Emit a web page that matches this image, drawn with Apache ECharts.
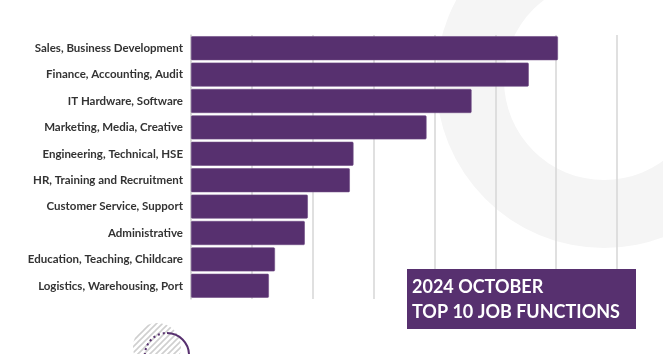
<!DOCTYPE html>
<html>
<head>
<meta charset="utf-8">
<script src="https://cdn.jsdelivr.net/npm/echarts@6/dist/echarts.min.js"></script>
<style>
  html, body { margin: 0; padding: 0; background: #fff; }
  #chart { width: 663px; height: 354px; }
</style>
</head>
<body>
<div id="chart"></div>
<script>
// job functions, top to bottom
const categories = [
  'Sales, Business Development',
  'Finance, Accounting, Audit',
  'IT Hardware, Software',
  'Marketing, Media, Creative',
  'Engineering, Technical, HSE',
  'HR, Training and Recruitment',
  'Customer Service, Support',
  'Administrative',
  'Education, Teaching, Childcare',
  'Logistics, Warehousing, Port'
]
// bar lengths (no axis labels shown, one gridline = 100)
const values = [603, 555, 461, 387, 267, 261, 192, 187, 138, 128]
const titleLines = ['2024 OCTOBER', 'TOP 10 JOB FUNCTIONS']

const purple = '#57306f'

// hatch pattern for the small decoration circle
function hatch() {
  const c = document.createElement('canvas')
  c.width = 6
  c.height = 6
  const ctx = c.getContext('2d')
  ctx.strokeStyle = '#cfcfcf'
  ctx.lineWidth = 1.6
  ctx.beginPath()
  ctx.moveTo(-1, 7); ctx.lineTo(7, -1)
  ctx.moveTo(5, 7); ctx.lineTo(7, 5)
  ctx.moveTo(-1, 1); ctx.lineTo(1, -1)
  ctx.stroke()
  return c
}

const chart = echarts.init(document.getElementById('chart'))

chart.setOption({
  animation: false,
  backgroundColor: '#fff',
  grid: { left: 191, right: 46, top: 35, bottom: 55 },
  xAxis: {
    type: 'value',
    min: 0,
    max: 700,
    interval: 100,
    axisLabel: { show: false },
    axisLine: { show: false },
    axisTick: { show: false },
    splitLine: { lineStyle: { color: '#d6d6d6', width: 1.5 } }
  },
  yAxis: {
    type: 'category',
    inverse: true,
    data: categories,
    axisTick: { show: false },
    axisLine: { lineStyle: { color: '#d6d6d6', width: 1.5 } },
    axisLabel: {
      margin: 8,
      fontSize: 11.5,
      fontWeight: 'bold',
      fontFamily: 'Lato',
      color: '#333'
    }
  },
  series: [{
    type: 'bar',
    data: values,
    barCategoryGap: '9%',
    itemStyle: {
      color: purple,
      borderRadius: 1,
      borderColor: '#6e4b85',
      borderWidth: 0.6
    },
    z: 3
  }],
  graphic: [
    // big pale ring behind the chart
    {
      type: 'ring',
      shape: { cx: 604, cy: 80, r: 168, r0: 100 },
      style: { fill: '#f5f5f5' },
      z: -10,
      silent: true
    },
    // small hatched circle bottom left
    {
      type: 'circle',
      shape: { cx: 157, cy: 347, r: 24 },
      style: { fill: { image: hatch(), repeat: 'repeat' } },
      z: -10,
      silent: true
    },
    {
      type: 'arc',
      shape: { cx: 167, cy: 355, r: 22, startAngle: Math.PI, endAngle: Math.PI * 1.5 },
      style: { stroke: purple, lineWidth: 2, fill: null, lineDash: [2, 3] },
      silent: true
    },
    {
      type: 'arc',
      shape: { cx: 167, cy: 355, r: 22, startAngle: Math.PI * 1.5, endAngle: Math.PI * 2 },
      style: { stroke: purple, lineWidth: 2, fill: null },
      silent: true
    },
    // title box
    {
      type: 'rect',
      shape: { x: 407, y: 269, width: 229, height: 60 },
      style: { fill: purple },
      z: 10
    },
    {
      type: 'text',
      left: 412,
      top: 275,
      z: 11,
      style: {
        text: titleLines.join('\n'),
        fill: '#fff',
        font: 'bold 18px Lato',
        lineHeight: 25
      }
    }
  ]
})
</script>
</body>
</html>
